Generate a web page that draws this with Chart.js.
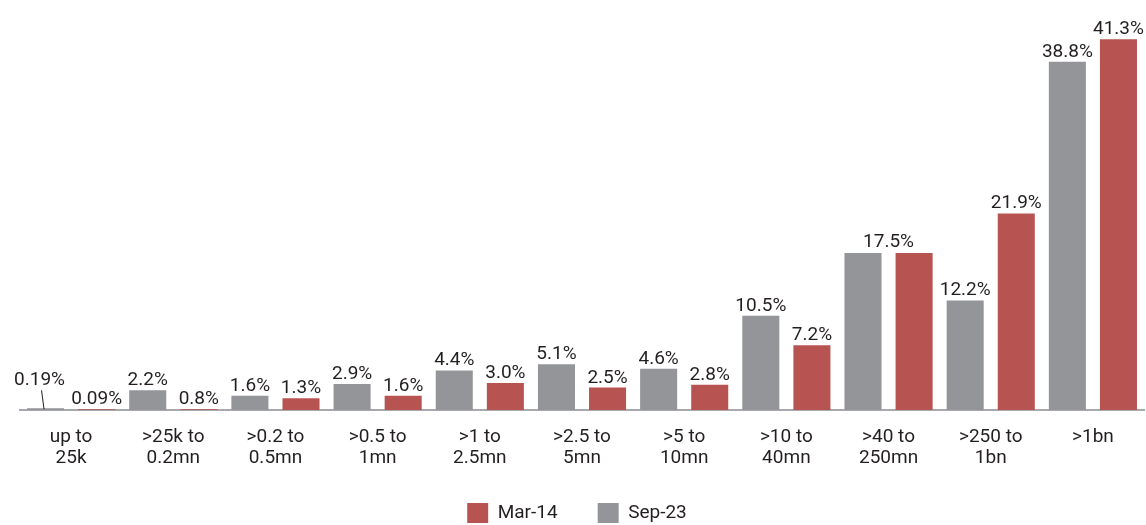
<!DOCTYPE html>
<html>
<head>
<meta charset="utf-8">
<script src="https://cdn.jsdelivr.net/npm/chart.js@4/dist/chart.umd.min.js"></script>
<style>
  html, body { margin: 0; padding: 0; background: #fff; }
  #wrap { width: 1146px; height: 525px; position: relative; }
</style>
</head>
<body>
<div id="wrap"><canvas id="myChart"></canvas></div>
<script>
// categories (two lines each)
const categories = [
  ['up to', '25k'], ['>25k to', '0.2mn'], ['>0.2 to', '0.5mn'], ['>0.5 to', '1mn'],
  ['>1 to', '2.5mn'], ['>2.5 to', '5mn'], ['>5 to', '10mn'], ['>10 to', '40mn'],
  ['>40 to', '250mn'], ['>250 to', '1bn'], ['>1bn']
]

// bar heights as drawn
const sep23 = [0.19, 2.2, 1.6, 2.9, 4.4, 5.1, 4.6, 10.5, 17.5, 12.2, 38.8]
const mar14 = [0.09, 0.08, 1.3, 1.6, 3.0, 2.5, 2.8, 7.2, 17.5, 21.9, 41.3]

// value labels as printed ('' = shared label, drawn once over the pair)
const sep23Labels = ['0.19%', '2.2%', '1.6%', '2.9%', '4.4%', '5.1%', '4.6%', '10.5%', '17.5%', '12.2%', '38.8%']
const mar14Labels = ['0.09%', '0.8%', '1.3%', '1.6%', '3.0%', '2.5%', '2.8%', '7.2%', '', '21.9%', '41.3%']

const grey = '#939598'
const red = '#b75452'
const textColor = '#231f20'
const font = 'Roboto'

// draws the % labels above the bars
const barLabels = {
  id: 'barLabels',
  afterDatasetsDraw(chart) {
    const ctx = chart.ctx
    ctx.save()
    ctx.font = '19px ' + font
    ctx.fillStyle = textColor
    ctx.strokeStyle = textColor
    ctx.lineWidth = 1
    ctx.textAlign = 'center'
    ctx.textBaseline = 'alphabetic'
    const metas = [chart.getDatasetMeta(0), chart.getDatasetMeta(1)]
    chart.data.datasets.forEach((ds, di) => {
      metas[di].data.forEach((bar, i) => {
        const txt = ds.valueLabels[i]
        if (!txt) return
        const other = chart.data.datasets[1 - di].valueLabels[i]
        if (di === 0 && i === 0) {
          // tiny first bar: label lifted with a leader line
          const tx = bar.x - 6
          const ty = bar.y - 23
          ctx.fillText(txt, tx, ty)
          ctx.beginPath()
          ctx.moveTo(bar.x - 4, ty + 5)
          ctx.lineTo(bar.x - 1.5, bar.y + 1)
          ctx.stroke()
        } else if (!other) {
          const bar2 = metas[1 - di].data[i]
          ctx.fillText(txt, (bar.x + bar2.x) / 2, Math.min(bar.y, bar2.y) - 6)
        } else {
          ctx.fillText(txt, bar.x, bar.y - 5)
        }
      })
    })
    ctx.restore()
  }
}

// nudge the legend, as in the original
const legendShift = {
  id: 'legendShift',
  afterLayout(chart) {
    chart.legend.left -= 5
    chart.legend.right -= 5
    chart.legend.top -= 7
    chart.legend.bottom -= 7
  }
}

let ctx = document.querySelector('#myChart')
new Chart(ctx, {
  type: 'bar',
  data: {
    labels: categories,
    datasets: [
      {
        label: 'Sep-23',
        data: sep23,
        valueLabels: sep23Labels,
        backgroundColor: grey,
        barPercentage: 0.725,
        categoryPercentage: 1
      },
      {
        label: 'Mar-14',
        data: mar14,
        valueLabels: mar14Labels,
        backgroundColor: red,
        barPercentage: 0.725,
        categoryPercentage: 1
      }
    ]
  },
  options: {
    responsive: true,
    maintainAspectRatio: false,
    animation: false,
    layout: {
      padding: { left: 20, right: 2, top: 0, bottom: -15 }
    },
    scales: {
      x: {
        grid: { display: false, drawTicks: false },
        border: { display: true, color: '#a7a9ac', width: 2 },
        ticks: {
          color: textColor,
          padding: 17,
          maxRotation: 0,
          autoSkip: false,
          font: { family: font, size: 19, lineHeight: 1.08 }
        },
        afterFit(scale) {
          scale.height = 60
        }
      },
      y: {
        display: false,
        min: 0,
        max: 45.67
      }
    },
    plugins: {
      tooltip: { enabled: false },
      legend: {
        position: 'bottom',
        labels: {
          boxWidth: 21,
          boxHeight: 20,
          padding: 40,
          color: textColor,
          font: { family: font, size: 19 },
          sort: (a, b) => b.datasetIndex - a.datasetIndex
        }
      }
    }
  },
  plugins: [barLabels, legendShift]
})
</script>
</body>
</html>
